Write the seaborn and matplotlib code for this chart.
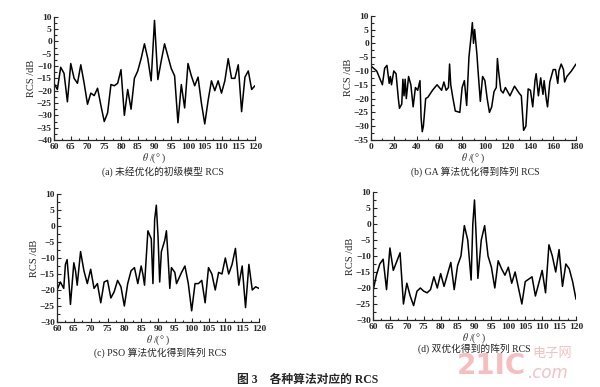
import numpy as np
import pandas as pd
import matplotlib
matplotlib.use("Agg")
import matplotlib.pyplot as plt
import seaborn as sns
from matplotlib.ticker import MultipleLocator

# (a) 未经优化的初级模型
theta_a = list(range(60, 121))
rcs_a = [-17, -19.5, -10.5, -13, -24.5, -9, -15, -17, -9.5, -17,
         -25.5, -21, -22, -19, -26, -32.5, -29, -17.5, -18, -17,
         -11.5, -30, -19.5, -27.5, -15, -12, -7, -1, -7, -16,
         8.5, -15.5, -8, -1, -6, -11, -14, -33, -17.5, -27,
         -9, -14, -18, -14.5, -25, -33.5, -24, -16, -20, -16,
         -21, -16, -7, -15, -15, -9.5, -28.5, -14.5, -12, -19.5, -18]

# (b) GA 算法
theta_b = [0, 5, 10, 12, 14, 16, 17, 18, 20, 22, 24, 25, 27, 28, 29, 30, 31, 33, 35, 37,
           39, 41, 43, 44, 45, 46, 48, 50, 54, 58, 62, 64, 66, 68, 69, 70, 72, 74, 78, 80,
           82, 84, 86, 88, 89, 90, 91, 93, 94, 96, 98, 100, 102, 104, 106, 108, 110, 111, 112, 114,
           116, 118, 122, 126, 130, 132, 134, 136, 138, 140, 142, 144, 145, 147, 149, 151, 152, 154, 155, 157,
           160, 162, 164, 165, 167, 169, 170, 172, 176, 180]
rcs_b = [-8.2, -10, -15, -9, -8, -14.5, -12, -15, -10, -11, -20, -23.5, -22, -13, -19, -13, -20, -12, -15, -23,
         -16, -17, -13.5, -27, -32, -30, -20, -19.5, -17, -15, -17, -14, -17, -16, -7.5, -15, -20, -24.5, -25, -16,
         -13.5, -22.5, -5, 3, 7.5, 0, 5, -4, -10, -21, -12, -13.5, -20, -25, -23, -17.5, -16, -5.5, -10, -17,
         -18, -16, -19, -15.5, -18, -19, -31.5, -30, -16.5, -17, -23, -13.5, -11, -19, -12.5, -18.5, -13.5, -20.5, -23, -14,
         -9.5, -9.5, -14.5, -10, -7.5, -9.5, -14, -12, -10, -7.5]

# (c) PSO 算法
theta_c = [60, 61, 62, 62.5, 63, 63.5, 64, 65, 65.5, 66, 67, 68, 69, 70, 71, 72, 73, 74, 75, 76,
           77, 78, 79, 80, 81, 82, 83, 84, 85, 85.5, 86, 87, 88, 88.5, 89, 89.5, 90, 90.5, 91, 92,
           92.5, 93, 93.5, 94, 95, 95.5, 97, 98, 99, 100, 101, 102, 103, 104, 105, 106, 107, 108, 109, 110,
           111, 112, 113, 114, 115, 116, 117, 118, 119, 120]
rcs_c = [-20, -17.5, -19.5, -12, -10.5, -17, -24.5, -11.5, -14, -18.5, -8, -14, -18, -13.5, -19.5, -18, -24, -17.5, -17, -22.5,
         -20.5, -17, -19, -25, -18, -14, -13, -18, -12.5, -15, -18.5, -1.5, -4, -18, 2, 6.5, -3, -17.5, -8, -4.5,
         -1.5, -10, -19.5, -13, -14.5, -18, -14.5, -12.5, -18, -26.5, -18, -18, -17, -24, -13, -15, -20, -14.5, -15, -10,
         -15, -12, -7, -18.5, -12.5, -25.5, -12, -20, -19, -19.5]

# (d) 双优化
theta_d = [60, 61, 62, 63, 64, 65, 66, 68, 69, 70, 71, 72, 73, 74, 75, 76, 77, 78, 79, 80,
           81, 83, 84, 85, 86, 87, 88, 89, 89.5, 90, 90.5, 91, 92, 93, 94, 95, 96, 97, 98, 99,
           100, 101, 102, 103, 104, 105, 107, 108, 110, 111, 112, 113, 114, 115, 116, 117, 118, 119, 120]
rcs_d = [-21, -16, -12.5, -11, -20.5, -7.5, -14.5, -9, -25, -18.5, -22.5, -25.5, -21, -20, -21, -21.5, -20.5, -16.5, -20, -15.5,
         -19.5, -12, -20.5, -13, -10, -0.5, -5, -17.5, 0, 7.5, -4, -17, -5, -0.5, -10, -13.5, -20, -11.5, -14, -16,
         -13.5, -18.5, -15, -20, -25, -18, -16.5, -22.5, -14.5, -21.5, -6.5, -10, -15, -8, -19.5, -12.5, -14, -18, -23.5]

sns.set_style("ticks")
plt.rcParams['font.family'] = ['Liberation Serif', 'Noto Sans CJK SC']
plt.rcParams['mathtext.fontset'] = 'stix'

W, H = 600, 387
fig = plt.figure(figsize=(6, 3.87), dpi=100)


def px(x0, y0, x1, y1):
    return [x0 / W, 1 - y1 / H, (x1 - x0) / W, (y1 - y0) / H]


panels = [
    (theta_a, rcs_a, px(54, 16.7, 255, 140), (60, 120), 5, (-40, 10)),
    (theta_b, rcs_b, px(371, 15.7, 576, 140), (0, 180), 20, (-35, 10)),
    (theta_c, rcs_c, px(57, 194, 259, 322), (60, 120), 5, (-30, 10)),
    (theta_d, rcs_d, px(373, 192, 576, 320), (60, 120), 5, (-30, 10)),
]

for th, r, pos, xl, xstep, yl in panels:
    ax = fig.add_axes(pos)
    df = pd.DataFrame({"theta": th, "rcs": r})
    sns.lineplot(data=df, x="theta", y="rcs", ax=ax, color="black", linewidth=1.1)
    ax.set_xlim(*xl)
    ax.set_ylim(*yl)
    ax.xaxis.set_major_locator(MultipleLocator(xstep))
    ax.xaxis.set_minor_locator(MultipleLocator(xstep / 2))
    ax.yaxis.set_major_locator(MultipleLocator(5))
    ax.yaxis.set_minor_locator(MultipleLocator(2.5))
    ax.tick_params(which="both", direction="in", labelsize=6.8, width=0.8)
    ax.tick_params(axis="x", pad=2)
    ax.tick_params(axis="y", pad=1.5)
    ax.tick_params(which="major", length=3)
    ax.tick_params(which="minor", length=1.8)
    for lab in ax.get_xticklabels() + ax.get_yticklabels():
        lab.set_fontweight("bold")
    sns.despine(ax=ax)
    for s in ["left", "bottom"]:
        ax.spines[s].set_linewidth(0.9)
    ax.set_xlabel(r"$\theta$ /(° )", fontsize=7, labelpad=0.5)
    ax.set_ylabel("RCS /dB", fontsize=7.5, labelpad=1)

cap = dict(fontsize=7, ha="center", va="center",
           family=['Liberation Serif', 'Noto Sans CJK SC'])
fig.text(163 / W, 1 - 172 / H, "(a) 未经优化的初级模型 RCS", **cap)
fig.text(475 / W, 1 - 172 / H, "(b) GA 算法优化得到阵列 RCS", **cap)
fig.text(160 / W, 1 - 353 / H, "(c) PSO 算法优化得到阵列 RCS", **cap)
fig.text(474 / W, 1 - 349 / H, "(d) 双优化得到的阵列 RCS", **cap)
fig.text(308 / W, 1 - 380 / H, "图 3    各种算法对应的 RCS", fontsize=8.5, fontweight="bold",
         ha="center", va="center", family=['Liberation Serif', 'Noto Sans CJK SC'])

# watermark
fig.text(457 / W, 1 - 366 / H, "21IC", fontsize=20, fontweight="bold", color="#f08a8a",
         alpha=0.55, ha="left", va="center", family="DejaVu Sans")
fig.text(532 / W, 1 - 353 / H, "电子网", fontsize=9.5, color="#e89a9a", alpha=0.6,
         ha="left", va="center", family="Noto Sans CJK SC")
fig.text(527 / W, 1 - 373 / H, ".com", fontsize=12, color="#e89a9a", alpha=0.6,
         ha="left", va="center", family="DejaVu Sans", style="italic")

fig.savefig("out.png", dpi=100)
